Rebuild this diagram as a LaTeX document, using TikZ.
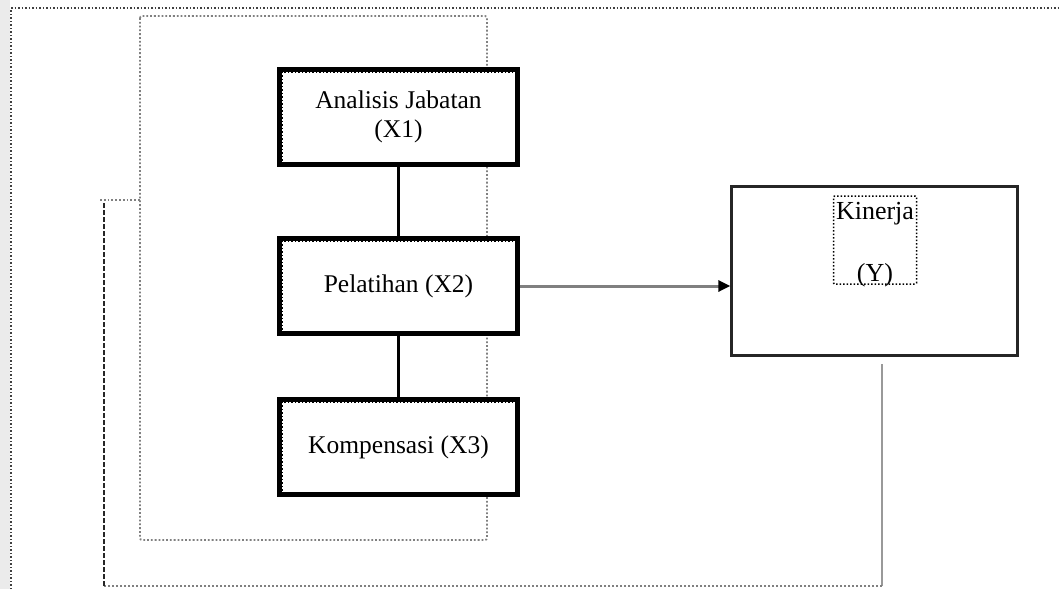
\documentclass[tikz,border=0pt]{standalone}
\usepackage{fontspec}
\setmainfont{Liberation Serif}
\usetikzlibrary{arrows.meta,calc}
\begin{document}
\begin{tikzpicture}[x=1pt,y=-1pt,
  varbox/.style={draw=black,fill=white,line width=4.5pt,minimum width=238pt,minimum height=95pt,
    align=center,inner sep=0pt,font=\fontsize{25.5}{29}\selectfont},
  innerdot/.style={draw=black,line width=1.5pt,dotted},
  ybox/.style={draw=black!85,line width=2.4pt,minimum width=286pt,minimum height=169pt,inner sep=0pt},
  grpline/.style={draw=black!50,line width=1.8pt,dotted},
  fbline/.style={draw=black!40,line width=2.4pt},
  link/.style={draw=black,line width=3.5pt},
  arr/.style={draw=black!50,line width=3pt,-{Triangle[length=12pt,width=11pt,fill=black,color=black]}}
]
\useasboundingbox (0,0) rectangle (1059,589);
% left strip and outer frame
\fill[black!8] (0,0) rectangle (10,589);
\draw[black!75,line width=1.5pt,dotted] (11,589) -- (11,8) -- (1059,8);
% group rectangle
\draw[grpline,rounded corners=2pt] (140,16) rectangle (487,540);
% variable boxes
\node[varbox] (x1) at (398.5,117) {Analisis Jabatan\\(X1)};
\node[varbox] (x2) at (398.5,286) {Pelatihan (X2)};
\node[varbox] (x3) at (398.5,447) {Kompensasi (X3)};
\foreach \n in {x1,x2,x3}{
  \draw[innerdot] ($(\n.north west)+(4.5,4.5)$) rectangle ($(\n.south east)+(-4.5,-4.5)$);
}
\draw[link] (x1.south) -- (x2.north);
\draw[link] (x2.south) -- (x3.north);
% dependent variable
\node[ybox] (y) at (874.5,271) {};
\node[draw=black,line width=1.5pt,dotted,minimum width=83pt,minimum height=88pt,inner sep=0pt,
  rounded corners=1pt] (yin) at (875,240) {};
\node[font=\fontsize{26}{29}\selectfont,inner sep=0pt,anchor=base] (yt1) at (875,219) {Kinerja};
\node[font=\fontsize{26}{29}\selectfont,inner sep=0pt,anchor=base] (yt2) at (875,281) {(Y)};
% arrow
\draw[arr] (x2.east |- 0,286) -- (y.west |- 0,286);
% feedback line
\coordinate (f1) at (882,364);
\coordinate (f2) at (882,586);
\coordinate (f3) at (104,586);
\coordinate (f4) at (104,203);
\coordinate (f5) at (100,200);
\coordinate (f6) at (140,200);
\draw[fbline] (f1) -- (f2);
\draw[draw=black!50,line width=2pt,dotted] (f2) -- (f3);
\draw[draw=black!85,line width=1.8pt,dash pattern=on 5pt off 2pt] (f3) -- (f4);
\draw[draw=black!50,line width=1.8pt,dotted] (f5) -- (f6);
\end{tikzpicture}
\end{document}
